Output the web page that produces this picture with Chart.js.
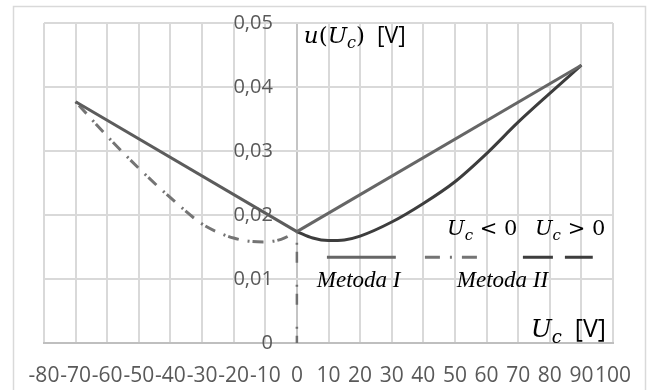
<!DOCTYPE html>
<html>
<head>
<meta charset="utf-8">
<script src="https://cdn.jsdelivr.net/npm/chart.js@4.4.0/dist/chart.umd.min.js"></script>
<style>
  html, body { margin: 0; padding: 0; background: #fff; }
  #wrap { position: relative; width: 653px; height: 390px; }
</style>
</head>
<body>
<div id="wrap"><canvas id="chart" width="653" height="390"></canvas></div>
<script>
// Uc [V] -> u(Uc) [V]
const m1NegX = [-70, 0];
const m1NegY = [0.0377, 0.0174];
const m1PosX = [0, 90];
const m1PosY = [0.0174, 0.0434];

const m2NegX = [-70, -60, -50, -40, -30, -25, -20, -15, -10, -5, 0];
const m2NegY = [0.0377, 0.0323, 0.0273, 0.0227, 0.0186, 0.0173, 0.0164, 0.0159, 0.0158, 0.0162, 0.0174];
const m2PosX = [0, 5, 10, 15, 20, 30, 40, 50, 60, 70, 80, 90];
const m2PosY = [0.0174, 0.0164, 0.0160, 0.0161, 0.0167, 0.0189, 0.0218, 0.0252, 0.0296, 0.0345, 0.0390, 0.0434];

// dash-dot drop line at Uc = 0
const dropX = [0, 0];
const dropY = [0.0174, 0];

// key sample lines (drawn inside the plot)
const keyY = 0.0134;
const keyM1X = [9.5, 31.3];
const keyM2NegX = [40.5, 58.5];
const keyM2PosX = [71.5, 93.6];

const xMin = -80, xMax = 100, xStep = 10;
const yMin = 0, yMax = 0.05, yStep = 0.01;

function pts(xs, ys) {
  return xs.map((x, i) => ({ x: x, y: Array.isArray(ys) ? ys[i] : ys }));
}

const serif = '"DejaVu Serif"';
const times = '"Liberation Serif"';
const sans = '"Open Sans"';

// text blocks: [x, y, align, parts[text, font, dy]]
const notes = [
  [2.2, 0.0469, 'left', [['u', 'italic 23px ' + serif], ['(', '23px ' + serif], ['U', 'italic 23px ' + serif],
    ['c', 'italic 16px ' + serif, 5], [')', '23px ' + serif], ['  [V]', '23px ' + sans]]],
  [97.8, 0.0009, 'right', [['U', 'italic 25px ' + serif], ['c', 'italic 18px ' + serif, 6], ['  [V]', '25px ' + sans]]],
  [47.5, 0.0169, 'left', [['U', 'italic 21px ' + serif], ['c', 'italic 15px ' + serif, 5], [' < 0', '21px ' + serif]]],
  [75.3, 0.0169, 'left', [['U', 'italic 21px ' + serif], ['c', 'italic 15px ' + serif, 5], [' > 0', '21px ' + serif]]],
  [6.3, 0.0087, 'left', [['Metoda I', 'italic 23px ' + times]]],
  [50.6, 0.0087, 'left', [['Metoda II', 'italic 23px ' + times]]]
];

const textPlugin = {
  id: 'texts',
  beforeDraw: function(chart) {
    const ctx = chart.ctx;
    ctx.save();
    ctx.fillStyle = '#fff';
    ctx.fillRect(0, 0, chart.width, chart.height);
    ctx.strokeStyle = '#d9d9d9';
    ctx.lineWidth = 1.5;
    ctx.strokeRect(13.5, 6.5, 632, 400);
    ctx.restore();
  },
  afterDraw: function(chart) {
    const ctx = chart.ctx;
    const sx = chart.scales.x, sy = chart.scales.y;
    ctx.save();
    ctx.fillStyle = '#000';
    ctx.textBaseline = 'alphabetic';
    ctx.textAlign = 'left';
    notes.forEach(function(n) {
      let x = sx.getPixelForValue(n[0]);
      const y = sy.getPixelForValue(n[1]);
      let w = 0;
      n[3].forEach(function(p) { ctx.font = p[1]; w += ctx.measureText(p[0]).width; });
      if (n[2] === 'right') x -= w;
      n[3].forEach(function(p) {
        ctx.font = p[1];
        ctx.fillText(p[0], x, y + (p[2] || 0));
        x += ctx.measureText(p[0]).width;
      });
    });
    ctx.restore();
  }
};

const gray = '#5c5c5c';
const dark = '#3d3d3d';
const light = '#747474';

new Chart(document.getElementById('chart'), {
  type: 'line',
  data: {
    datasets: [
      { data: pts(m1NegX, m1NegY), borderColor: gray, borderWidth: 3 },
      { data: pts(m1PosX, m1PosY), borderColor: '#666666', borderWidth: 3 },
      { data: pts(m2NegX, m2NegY), borderColor: light, borderWidth: 3, borderDash: [2, 3, 11, 9],
        cubicInterpolationMode: 'monotone' },
      { data: pts(m2PosX, m2PosY), borderColor: dark, borderWidth: 3, cubicInterpolationMode: 'monotone' },
      { data: pts(dropX, dropY), borderColor: '#707070', borderWidth: 2.5, borderDash: [2, 7, 11, 22], borderDashOffset: -11 },
      { data: pts(keyM1X, keyY), borderColor: '#666666', borderWidth: 3 },
      { data: pts(keyM2NegX, keyY), borderColor: light, borderWidth: 3, borderDash: [15, 10, 2, 10] },
      { data: pts(keyM2PosX, keyY), borderColor: dark, borderWidth: 3, borderDash: [30, 12] }
    ]
  },
  options: {
    responsive: false,
    animation: false,
    layout: { padding: { left: 44, right: 40, top: 23, bottom: 3 } },
    elements: { point: { radius: 0 }, line: { fill: false, borderCapStyle: 'butt' } },
    plugins: { legend: { display: false }, tooltip: { enabled: false } },
    scales: {
      x: {
        type: 'linear',
        min: xMin, max: xMax,
        afterFit: function(scale) { scale.height = 44; },
        grid: {
          color: function(c) { return c.tick && c.tick.value === 0 ? '#c4c4c4' : '#d9d9d9'; },
          lineWidth: 2, drawTicks: false
        },
        border: { display: true, color: '#bfbfbf', width: 2 },
        ticks: {
          stepSize: xStep, autoSkip: false, maxRotation: 0, minRotation: 0, padding: 20,
          color: '#595959', font: { family: 'Open Sans', size: 21 }
        }
      },
      y: {
        type: 'linear',
        min: yMin, max: yMax,
        position: { x: -7.6 },
        grid: { color: '#d9d9d9', lineWidth: 2, drawTicks: false },
        border: { display: false },
        ticks: {
          stepSize: yStep, padding: 0,
          color: '#595959', font: { family: 'Open Sans', size: 20 },
          callback: function(v) { return v === 0 ? '0' : v.toFixed(2).replace('.', ','); }
        }
      }
    }
  },
  plugins: [textPlugin]
});
</script>
</body>
</html>
